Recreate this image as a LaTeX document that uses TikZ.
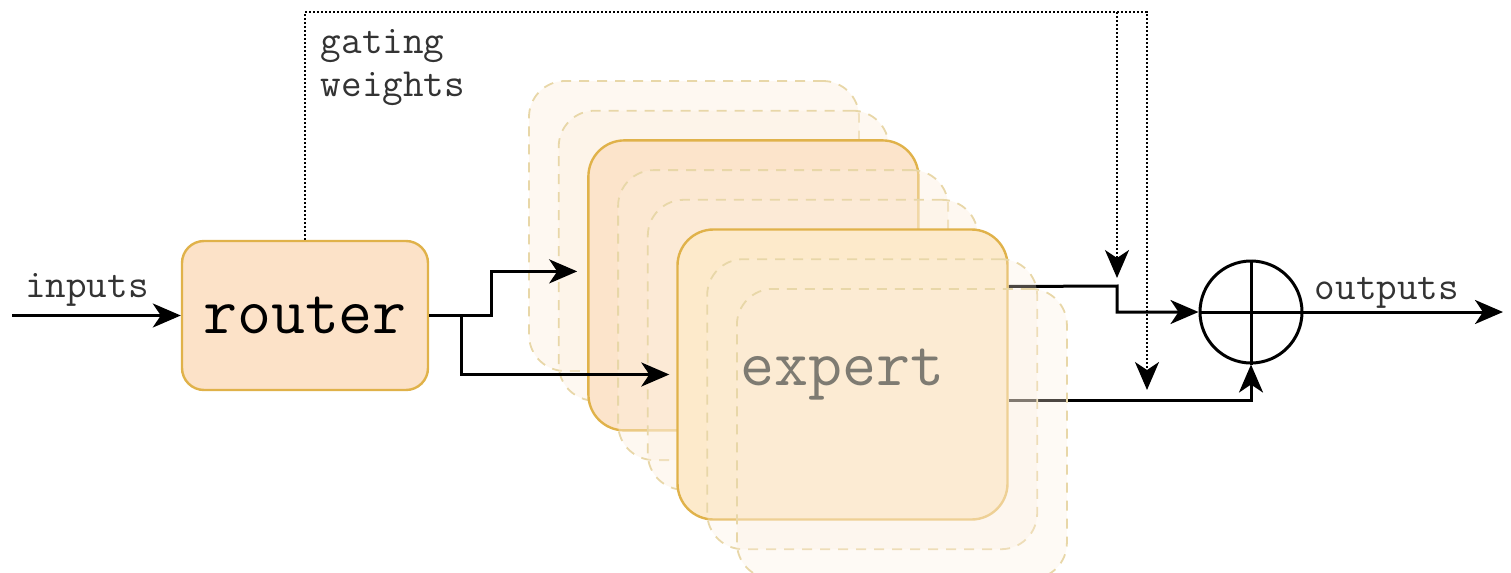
\documentclass[tikz,border=0pt]{standalone}
\usepackage{xcolor}
\usepackage{tikz}
\usetikzlibrary{arrows.meta,positioning,calc,backgrounds}

\definecolor{rtfill}{HTML}{FCE2C8}
\definecolor{rtline}{HTML}{E0B24A}
\definecolor{exfill}{HTML}{FCE4CB}
\definecolor{exfront}{HTML}{FDEACB}
\definecolor{ghfill}{HTML}{FCEEDD}
\definecolor{ghline}{HTML}{E8D7A8}
\definecolor{extext}{HTML}{7E7B72}

\begin{document}
\begin{tikzpicture}[
    x=0.5pt, y=-0.5pt,
    router/.style={draw=rtline, fill=rtfill, line width=1.2pt, rounded corners=11pt, minimum width=123pt, minimum height=74.5pt, inner sep=0pt, font=\ttfamily\fontsize{33}{36}\selectfont},
    expbox/.style={draw=rtline, fill=exfill, line width=1.2pt, rounded corners=18pt, minimum width=165pt, minimum height=145pt, inner sep=0pt},
    ghostbox/.style={draw=ghline, fill=ghfill, fill opacity=0.4, line width=0.9pt, dash pattern=on 5pt off 4pt, rounded corners=18pt, minimum width=165pt, minimum height=145pt, inner sep=0pt},
    lbl/.style={font=\ttfamily\fontsize{20}{21.5}\selectfont, text=black!80, inner sep=0pt},
    arr/.style={-{Stealth[length=14pt, width=12pt, inset=4pt]}, line width=1.5pt},
    gate/.style={line width=1.2pt, dash pattern=on 1pt off 1pt},
    gatearr/.style={gate, -{Stealth[length=14pt, width=12pt, inset=4pt]}}
]
    \useasboundingbox (0,0) rectangle (1511,573);

    % router
    \node[router] (router) at (305,315.5) {router};
    \coordinate (in) at (12,315.5);
    \draw[arr] (in) -- (router.west);
    \node[lbl] (inlbl) at (87,290) {inputs};

    % expert stack
    \node[ghostbox] (exA) at (694,226) {};
    \node[ghostbox] (exB) at (723.7,255.7) {};
    \node[expbox] (exC) at (753.4,285.4) {};
    \node[ghostbox] (exD) at (783.1,315.1) {};
    \node[ghostbox] (exE) at (812.8,344.8) {};
    \node[expbox, fill=exfront] (exF) at (842.5,374.5) {};
    \node[ghostbox, fill opacity=0.3] (exG) at (872.2,404.2) {};
    \node[ghostbox, fill opacity=0.3] (exH) at (901.9,433.9) {};
    \node[font=\ttfamily\fontsize{33}{36}\selectfont, text=extext] (extxt) at (exF.center) {expert};

    % router to experts
    \draw[arr] (router.east) -- ++(62,0) |- ([xshift=-5pt,yshift=7pt]exC.west);
    \draw[arr] ([xshift=16pt]router.east) |- ([xshift=-3.5pt]exF.west);

    % combine
    \node[circle, draw, line width=1.5pt, minimum size=51pt, inner sep=0pt] (sum) at (1251,312) {};
    \draw[line width=1.5pt] (sum.north) -- (sum.south) (sum.west) -- (sum.east);

    \begin{scope}[on background layer]
        \draw[arr] ([yshift=44pt]exF.east) -- (1117,286) |- (sum.west);
        \draw[arr] ([yshift=-13pt]exF.east) -| (sum.south);
    \end{scope}

    \coordinate (out) at (1503,312);
    \draw[arr] (sum.east) -- (out);
    \node[lbl] (outlbl) at (1387,293) {outputs};

    % gating weights
    \coordinate (g1) at (1117,12);
    \coordinate (g2) at (1147,12);
    \draw[gatearr] (router.north) |- (g2) -- ++(0,378);
    \draw[gatearr] (g1) -- ++(0,266);
    \node[lbl, align=left] (gatelbl) at (393,68) {gating\\weights};
\end{tikzpicture}
\end{document}
